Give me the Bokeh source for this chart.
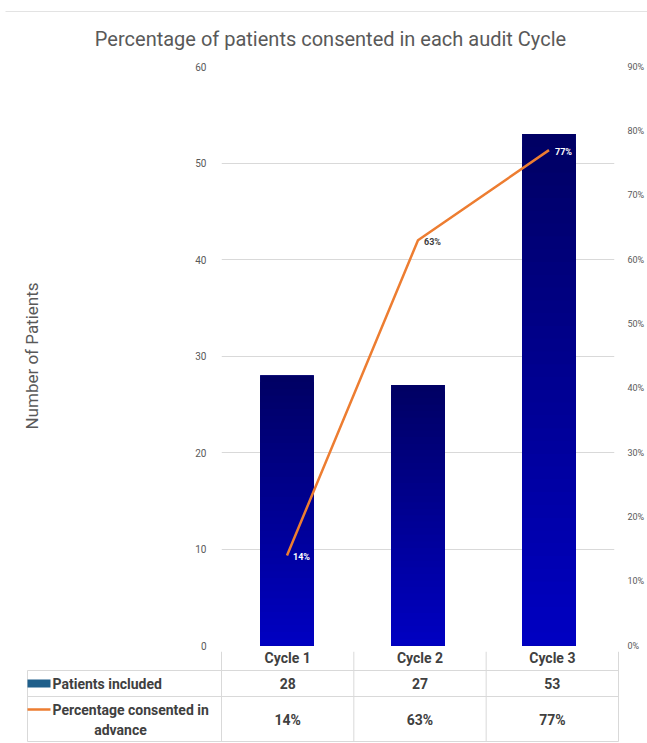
from bokeh.plotting import figure
from bokeh.models import (Range1d, LinearAxis, SingleIntervalTicker, PrintfTickFormatter,
                          ColumnDataSource, FactorRange)
from bokeh.layouts import column
from bokeh.embed import file_html
from bokeh.resources import INLINE
from bokeh.core.properties import value

# ---------------- data ----------------
cycles = ["Cycle 1", "Cycle 2", "Cycle 3"]
patients = [28, 27, 53]
pct_consented = [14, 63, 77]
series_names = ["Patients included", "Percentage consented in", "advance"]
title_text = "Percentage of patients consented in each audit Cycle"
y_title = "Number of Patients"

# ---------------- style ----------------
FONT = "Roboto"
GRAY = "#595959"
DARK = "#404040"
GRID = "#d9d9d9"
ORANGE = "#ed7d31"
LEGEND_BLUE = "#1f5f8b"
BAR_TOP = (0, 0, 100)
BAR_BOTTOM = (0, 0, 196)

W = 647
TITLE_H = 60
MAIN_H = 591
TABLE_H = 92
LEFT, RIGHT, TOP, BOTTOM = 221, 29, 6, 6


def pixel_fig(h):
    f = figure(width=W, height=h, x_range=Range1d(0, W), y_range=Range1d(h, 0),
               x_axis_location=None, y_axis_location=None, min_border=0,
               output_backend="svg", toolbar_location=None)
    f.min_border_left = f.min_border_right = f.min_border_top = f.min_border_bottom = 0
    f.outline_line_color = None
    f.grid.visible = False
    f.border_fill_color = "white"
    f.frame_align = False
    return f


# ---------------- title ----------------
tf = pixel_fig(TITLE_H)
tf.segment(x0=[5], y0=[11], x1=[W], y1=[11], line_color="#e3e3e3", line_width=1)
tf.text(x=[330], y=[38], text=[title_text], text_align="center", text_baseline="middle",
        text_font=value(FONT), text_font_size="20px", text_color=GRAY)

# ---------------- main chart ----------------
p = figure(x_range=FactorRange(*cycles), y_range=Range1d(0, 60),
           width=W, height=MAIN_H, x_axis_location=None,
           min_border_left=LEFT, min_border_right=RIGHT,
           min_border_top=TOP, min_border_bottom=BOTTOM,
           output_backend="svg", toolbar_location=None)
p.frame_align = False
p.outline_line_color = None
p.background_fill_color = "white"
p.border_fill_color = "white"

left_ticker = SingleIntervalTicker(interval=10, num_minor_ticks=0)
p.yaxis.ticker = left_ticker
p.ygrid.ticker = left_ticker
p.xgrid.visible = False
p.ygrid.grid_line_color = GRID
p.yaxis.axis_line_color = None
p.yaxis.major_tick_line_color = None
p.yaxis.minor_tick_line_color = None
p.yaxis.major_label_text_font = FONT
p.yaxis.major_label_text_font_size = "10px"
p.yaxis.major_label_text_color = GRAY
p.yaxis.major_label_standoff = 9
p.yaxis.axis_label = y_title
p.yaxis.axis_label_text_font = FONT
p.yaxis.axis_label_text_font_size = "17px"
p.yaxis.axis_label_text_font_style = "normal"
p.yaxis.axis_label_text_color = GRAY
p.yaxis.axis_label_standoff = 150

p.extra_y_ranges = {"pct": Range1d(0, 90)}
rax = LinearAxis(y_range_name="pct", ticker=SingleIntervalTicker(interval=10, num_minor_ticks=0),
                 formatter=PrintfTickFormatter(format="%d%%"))
rax.axis_line_color = None
rax.major_tick_line_color = None
rax.minor_tick_line_color = None
rax.major_label_text_font = FONT
rax.major_label_text_font_size = "9px"
rax.major_label_text_color = GRAY
rax.major_label_standoff = 7
p.add_layout(rax, "right")

# bars: solid base + vertical gradient layers (drawn tallest first)
BAR_W = 0.41
p.vbar(x=cycles, top=patients, width=BAR_W, fill_color="#00009a", line_color=None)
N = 40
gx, gtop, gcol = [], [], []
for k in range(N):
    f = (N - k) / N
    t = 1 - f
    r = int(BAR_TOP[0] + (BAR_BOTTOM[0] - BAR_TOP[0]) * t)
    g = int(BAR_TOP[1] + (BAR_BOTTOM[1] - BAR_TOP[1]) * t)
    b = int(BAR_TOP[2] + (BAR_BOTTOM[2] - BAR_TOP[2]) * t)
    for c, v in zip(cycles, patients):
        gx.append(c)
        gtop.append(v * f)
        gcol.append("#%02x%02x%02x" % (r, g, b))
p.vbar(x=gx, top=gtop, width=BAR_W, fill_color=gcol, line_color=None)

# line
p.line(x=cycles, y=pct_consented, y_range_name="pct", line_color=ORANGE, line_width=2.5)

lab_col = ["white" if (v / 90 * 60) < n else DARK for v, n in zip(pct_consented, patients)]
lab_src = ColumnDataSource(dict(x=cycles, y=pct_consented, t=[f"{v}%" for v in pct_consented], c=lab_col))
p.text(x="x", y="y", text="t", source=lab_src, y_range_name="pct", x_offset=6, y_offset=2,
       text_color="c", text_font=value(FONT), text_font_size="9px", text_font_style="bold",
       text_baseline="middle", text_align="left")

# ---------------- data table below ----------------
tb = pixel_fig(TABLE_H)
colw = (W - LEFT - RIGHT) / 3
xs = [LEFT + colw * i for i in range(4)]
centers = [LEFT + colw * (i + 0.5) for i in range(3)]
ROWS = [19, 45, 90]
XL = 27
tb.segment(x0=[XL] * 3, y0=ROWS, x1=[xs[-1]] * 3, y1=ROWS, line_color=GRID, line_width=1)
vx = [XL] + xs
vy0 = [ROWS[0]] + [0] * 4
vy1 = [ROWS[2]] * 5
tb.segment(x0=vx, y0=vy0, x1=vx, y1=vy1, line_color=GRID, line_width=1)

TF = dict(text_font=value(FONT), text_font_size="14px", text_font_style="bold",
          text_color=DARK, text_baseline="middle")
tb.text(x=centers, y=[6] * 3, text=cycles, text_align="center", **TF)
tb.text(x=centers, y=[32] * 3, text=[str(v) for v in patients], text_align="center", **TF)
tb.text(x=centers, y=[68] * 3, text=[f"{v}%" for v in pct_consented], text_align="center", **TF)

tb.quad(left=[XL], right=[50], top=[28], bottom=[36], fill_color=LEGEND_BLUE, line_color=None)
tb.segment(x0=[XL], y0=[58], x1=[50], y1=[58], line_color=ORANGE, line_width=2.5)
tb.text(x=[52, 52], y=[32, 58], text=series_names[:2], text_align="left", **TF)
tb.text(x=[120], y=[78], text=series_names[2:], text_align="center", **TF)

layout = column(tf, p, tb, spacing=0)
open("out.html", "w").write(file_html(layout, INLINE))
